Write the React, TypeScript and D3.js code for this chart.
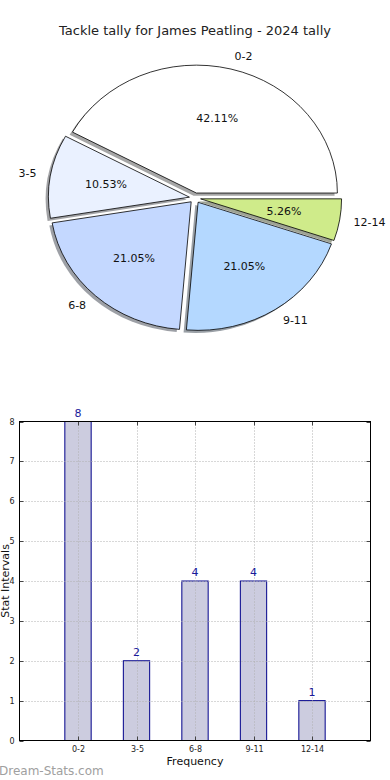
import React, { useEffect, useRef } from 'react';
import * as d3 from 'd3';

const categories = ['0-2', '3-5', '6-8', '9-11', '12-14'];
const counts = [8, 2, 4, 4, 1];
const sliceColors = ['#ffffff', '#eaf1ff', '#c4d8ff', '#b4d8ff', '#cfeb8a'];
const yTicks = [0, 1, 2, 3, 4, 5, 6, 7, 8];
const title = 'Tackle tally for James Peatling - 2024 tally';

const FONT = 'DejaVu Sans, sans-serif';

const App: React.FC = () => {
  const svgRef = useRef<SVGSVGElement>(null);

  useEffect(() => {
    if (!svgRef.current) return;
    const svg = d3.select(svgRef.current);
    svg.selectAll('*').remove();

    svg.append('rect').attr('width', 390).attr('height', 780).attr('fill', '#fff');

    svg.append('text')
      .attr('x', 195).attr('y', 35)
      .attr('text-anchor', 'middle')
      .style('font', `13px ${FONT}`)
      .attr('fill', '#222')
      .text(title);

    // Pie (elliptical, matplotlib style: starts at 3 o'clock, counter-clockwise)
    const cx = 195, cy = 198, rx = 141, ry = 128;
    const explode = 0.04;
    const total = d3.sum(counts);

    const pie = d3.pie<number>().sort(null)
      .startAngle(Math.PI / 2)
      .endAngle(Math.PI / 2 - 2 * Math.PI);
    const arcs = pie(counts);
    const arc = d3.arc<d3.PieArcDatum<number>>().innerRadius(0).outerRadius(1);

    const pieG = svg.append('g');

    const offsets = arcs.map(a => {
      const mid = Math.PI / 2 - (a.startAngle + a.endAngle) / 2; // math angle
      return { mid, dx: Math.cos(mid) * explode * rx, dy: -Math.sin(mid) * explode * ry };
    });

    // shadows first
    arcs.forEach((a, i) => {
      const o = offsets[i];
      const c = d3.rgb(sliceColors[i]);
      pieG.append('path')
        .attr('d', arc(a) as string)
        .attr('transform', `translate(${cx + o.dx - 2.8},${cy + o.dy + 2.6}) scale(${rx},${ry})`)
        .attr('fill', d3.rgb(c.r * 0.3, c.g * 0.3, c.b * 0.3).toString())
        .attr('fill-opacity', 0.5);
    });

    arcs.forEach((a, i) => {
      const o = offsets[i];
      pieG.append('path')
        .attr('d', arc(a) as string)
        .attr('transform', `translate(${cx + o.dx},${cy + o.dy}) scale(${rx},${ry})`)
        .attr('fill', sliceColors[i])
        .attr('stroke', '#000')
        .attr('stroke-width', 0.8)
        .attr('vector-effect', 'non-scaling-stroke');
    });

    arcs.forEach((a, i) => {
      const o = offsets[i];
      const cosM = Math.cos(o.mid), sinM = Math.sin(o.mid);
      const lx = cx + o.dx + 1.1 * rx * cosM;
      const ly = cy + o.dy - 1.1 * ry * sinM;
      pieG.append('text')
        .attr('x', lx).attr('y', ly)
        .attr('text-anchor', cosM > 0 ? 'start' : 'end')
        .attr('dominant-baseline', 'central')
        .style('font', `11px ${FONT}`)
        .attr('fill', '#111')
        .text(categories[i]);
      const px = cx + o.dx + 0.6 * rx * cosM;
      const py = cy + o.dy - 0.6 * ry * sinM;
      pieG.append('text')
        .attr('x', px).attr('y', py)
        .attr('text-anchor', 'middle')
        .attr('dominant-baseline', 'central')
        .style('font', `11px ${FONT}`)
        .attr('fill', '#111')
        .text(`${((counts[i] / total) * 100).toFixed(2)}%`);
    });

    // Bar chart
    const left = 19.5, right = 370.5, top = 421.5, bottom = 740.5;
    const x = d3.scaleLinear().domain([-1, categories.length]).range([left, right]);
    const y = d3.scaleLinear().domain([0, 8]).range([bottom, top]);
    const barW = 0.45;
    const g = svg.append('g');

    g.selectAll('rect.bar')
      .data(counts)
      .enter()
      .append('rect')
      .attr('class', 'bar')
      .attr('x', (_, i) => x(i - barW / 2))
      .attr('y', d => y(d))
      .attr('width', x(barW) - x(0))
      .attr('height', d => y(0) - y(d))
      .attr('fill', '#ccccdf')
      .attr('stroke', '#00008b')
      .attr('stroke-width', 1);

    // grid (drawn above bars)
    yTicks.slice(1, -1).forEach(t => {
      g.append('line')
        .attr('x1', left).attr('x2', right)
        .attr('y1', Math.round(y(t)) + 0.5).attr('y2', Math.round(y(t)) + 0.5)
        .attr('stroke', '#b0b0b0').attr('stroke-dasharray', '1,2');
    });
    categories.forEach((_, i) => {
      g.append('line')
        .attr('x1', Math.round(x(i)) + 0.5).attr('x2', Math.round(x(i)) + 0.5)
        .attr('y1', top).attr('y2', bottom)
        .attr('stroke', '#b0b0b0').attr('stroke-dasharray', '1,2');
    });

    // ticks inside on all sides
    yTicks.forEach(t => {
      const yy = Math.round(y(t)) + 0.5;
      g.append('line').attr('x1', left).attr('x2', left + 4).attr('y1', yy).attr('y2', yy).attr('stroke', '#444');
      g.append('line').attr('x1', right - 4).attr('x2', right).attr('y1', yy).attr('y2', yy).attr('stroke', '#444');
      g.append('text')
        .attr('x', left - 5).attr('y', yy)
        .attr('text-anchor', 'end').attr('dominant-baseline', 'central')
        .style('font', `8px ${FONT}`).attr('fill', '#222')
        .text(String(t));
    });
    categories.forEach((c, i) => {
      const xx = Math.round(x(i)) + 0.5;
      g.append('line').attr('x1', xx).attr('x2', xx).attr('y1', bottom - 4).attr('y2', bottom).attr('stroke', '#444');
      g.append('line').attr('x1', xx).attr('x2', xx).attr('y1', top).attr('y2', top + 4).attr('stroke', '#444');
      g.append('text')
        .attr('x', xx).attr('y', bottom + 11)
        .attr('text-anchor', 'middle')
        .style('font', `8px ${FONT}`).attr('fill', '#222')
        .text(c);
    });

    g.append('rect')
      .attr('x', left).attr('y', top)
      .attr('width', right - left).attr('height', bottom - top)
      .attr('fill', 'none').attr('stroke', '#000').attr('stroke-width', 1);

    // value labels
    counts.forEach((v, i) => {
      g.append('text')
        .attr('x', x(i)).attr('y', y(v) - 5)
        .attr('text-anchor', 'middle')
        .style('font', `11px ${FONT}`).attr('fill', '#1a1a9a')
        .text(String(v));
    });

    g.append('text')
      .attr('x', (left + right) / 2).attr('y', 765)
      .attr('text-anchor', 'middle')
      .style('font', `11px ${FONT}`).attr('fill', '#111')
      .text('Frequency');

    g.append('text')
      .attr('transform', `translate(9,${(top + bottom) / 2}) rotate(-90)`)
      .attr('text-anchor', 'middle')
      .style('font', `11px ${FONT}`).attr('fill', '#111')
      .text('Stat Intervals');

    svg.append('text')
      .attr('x', -1).attr('y', 775)
      .style('font', `12px ${FONT}`).attr('fill', '#a0a0a0')
      .text('Dream-Stats.com');
  }, []);

  return (
    <div style={{ position: 'absolute', left: 0, top: 0 }}>
      <svg ref={svgRef} width={390} height={780} style={{ display: 'block' }}></svg>
    </div>
  );
};

export default App;
